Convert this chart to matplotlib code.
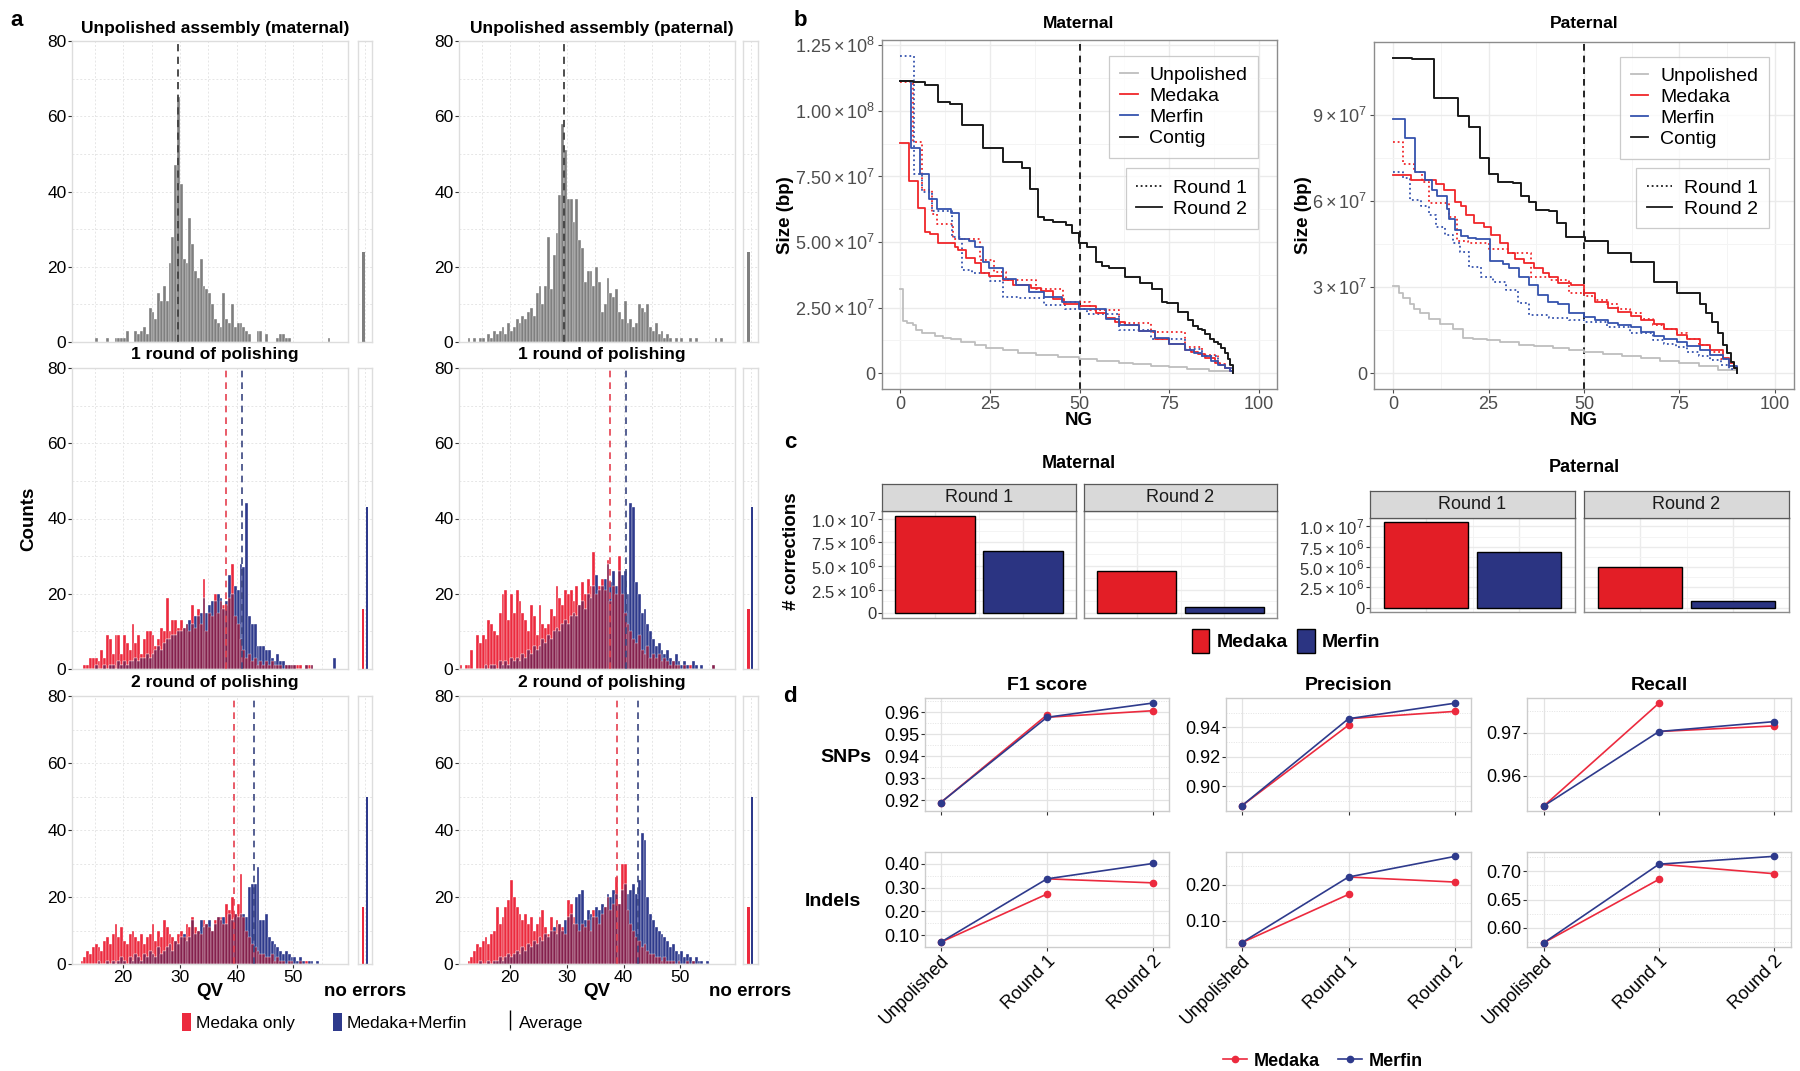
import matplotlib
matplotlib.use('Agg')
import matplotlib.pyplot as plt
import numpy as np
from matplotlib.lines import Line2D
from matplotlib.patches import Patch

plt.rcParams['font.family'] = ['Liberation Sans', 'DejaVu Sans']
plt.rcParams['mathtext.fontset'] = 'custom'
plt.rcParams['mathtext.rm'] = 'Liberation Sans'
plt.rcParams['mathtext.it'] = 'Liberation Sans:italic'
plt.rcParams['mathtext.bf'] = 'Liberation Sans:bold'

NARROW = ['Liberation Sans Narrow', 'Liberation Sans', 'DejaVu Sans']

W, H = 1800, 1071

# ---------------- panel a: QV histograms (bin width 0.5) ----------------
BIN = 0.5
UNPOL_MAT_START = 15.0
UNPOL_MAT = [1, 0, 0, 0, 1, 0, 0, 1, 1, 1, 1, 3, 0, 0, 3, 2, 3, 4, 2, 9,
             8, 6, 13, 11, 15, 11, 21, 28, 47, 65, 42, 22, 21, 33, 26, 19, 17, 22, 15, 14,
             13, 10, 6, 5, 4, 13, 6, 5, 10, 4, 5, 5, 4, 3, 2, 0, 0, 3, 3, 0,
             2, 0, 0, 0, 1, 2, 2, 1, 1, 0, 0, 0, 0, 0, 0, 0, 0, 0, 0, 0,
             0, 0, 1]
UNPOL_PAT_START = 12.5
UNPOL_PAT = [1, 0, 1, 0, 1, 1, 0, 2, 1, 3, 2, 3, 4, 2, 5, 3, 4, 6, 5, 7,
             6, 8, 9, 7, 13, 15, 10, 15, 28, 14, 23, 29, 39, 58, 51, 38, 38, 32, 38, 27,
             25, 16, 19, 19, 15, 20, 16, 8, 10, 17, 13, 12, 14, 8, 6, 11, 5, 6, 4, 5,
             10, 9, 8, 10, 4, 3, 5, 2, 3, 1, 2, 1, 0, 1, 0, 1, 0, 0, 1, 0,
             1, 0, 0, 0, 0, 0, 0, 1, 0, 1]

R1_MAT_START = 13.0
R1_MAT_MEDAKA = [1, 1, 3, 3, 3, 2, 5, 3, 9, 8, 4, 9, 9, 4, 9, 7, 5, 12, 7, 9,
                 4, 8, 10, 10, 9, 6, 8, 11, 10, 19, 10, 13, 13, 11, 13, 11, 12, 10, 17, 11,
                 16, 12, 24, 10, 15, 14, 20, 15, 18, 17, 17, 19, 28, 14, 12, 8, 5, 3, 4, 2,
                 3, 1, 2, 1, 2, 1, 2, 1, 1, 1, 0, 1, 1, 1, 1, 1, 1, 0, 1, 1, 1]
R1_MAT_MERFIN = [0, 0, 0, 0, 1, 0, 0, 1, 0, 1, 1, 0, 2, 1, 2, 1, 2, 2, 3, 2,
                 3, 3, 4, 3, 4, 5, 6, 5, 7, 8, 8, 9, 9, 10, 10, 11, 12, 13, 12, 14,
                 14, 15, 19, 15, 17, 18, 18, 20, 19, 16, 18, 25, 20, 22, 21, 28, 27, 44, 14, 12,
                 12, 6, 6, 6, 5, 5, 3, 2, 4, 2, 2, 1, 1, 1, 1, 0, 0, 0, 1, 0,
                 1, 0, 0, 0, 0, 0, 0, 0, 3]
R1_PAT_START = 11.0
R1_PAT_MEDAKA = [1, 0, 1, 1, 5, 0, 9, 7, 9, 8, 13, 12, 10, 9, 15, 20, 21, 13, 20, 15,
                 21, 18, 15, 13, 10, 17, 14, 9, 17, 12, 11, 12, 16, 14, 22, 19, 17, 21, 20, 21,
                 18, 22, 17, 23, 20, 24, 22, 31, 20, 22, 24, 21, 29, 18, 22, 20, 30, 20, 15, 12,
                 10, 8, 7, 9, 5, 4, 6, 3, 4, 3, 4, 2, 3, 2, 1, 2, 1, 1, 0, 1,
                 0, 1, 0, 0, 0, 0, 0, 0, 0, 1]
R1_PAT_MERFIN = [0, 0, 0, 0, 0, 0, 0, 0, 0, 1, 0, 1, 1, 0, 2, 1, 2, 1, 3, 2,
                 3, 2, 4, 3, 5, 4, 6, 5, 6, 8, 7, 9, 8, 10, 11, 10, 12, 13, 12, 14,
                 15, 14, 17, 18, 16, 20, 19, 22, 25, 21, 22, 24, 28, 23, 26, 22, 26, 25, 26, 20,
                 44, 43, 23, 20, 15, 16, 12, 10, 8, 6, 7, 5, 4, 5, 3, 2, 4, 2, 1, 2,
                 1, 0, 2, 1, 0, 1, 0, 0, 0, 1]

R2_MAT_START = 12.5
R2_MAT_MEDAKA = [1, 2, 4, 3, 5, 6, 5, 4, 7, 8, 6, 9, 12, 8, 11, 7, 6, 9, 10, 8,
                 7, 9, 6, 8, 9, 12, 7, 10, 8, 13, 11, 9, 8, 7, 9, 10, 8, 12, 11, 14,
                 11, 10, 9, 13, 12, 11, 10, 13, 14, 14, 12, 18, 16, 20, 15, 18, 27, 14, 10, 8,
                 6, 5, 4, 3, 3, 2, 2, 3, 1, 2, 1, 1, 0, 1, 1, 0, 0, 1, 0, 1]
R2_MAT_MERFIN = [0, 0, 0, 0, 0, 0, 1, 0, 0, 1, 0, 1, 0, 1, 2, 1, 0, 2, 1, 3,
                 2, 1, 3, 2, 4, 3, 2, 5, 3, 4, 5, 6, 4, 7, 6, 8, 9, 7, 8, 13,
                 9, 10, 13, 11, 12, 13, 10, 12, 14, 13, 14, 12, 15, 13, 15, 14, 15, 15, 14, 23,
                 24, 24, 29, 13, 13, 15, 8, 7, 6, 5, 4, 3, 4, 3, 2, 2, 1, 2, 1, 0,
                 1, 1, 0, 1]
R2_PAT_START = 12.5
R2_PAT_MEDAKA = [1, 2, 4, 6, 5, 7, 8, 6, 9, 10, 17, 12, 14, 17, 19, 25, 20, 17, 15, 13,
                 15, 12, 14, 10, 12, 14, 16, 11, 9, 14, 10, 13, 12, 11, 9, 19, 18, 14, 12, 10,
                 12, 11, 13, 10, 16, 14, 12, 15, 17, 20, 16, 18, 26, 18, 30, 30, 16, 12, 10, 8,
                 7, 5, 6, 4, 3, 3, 2, 2, 1, 2, 1, 1, 1, 0, 1, 0, 0, 1, 0, 1]
R2_PAT_MERFIN = [0, 0, 0, 0, 1, 0, 0, 1, 0, 1, 1, 2, 1, 2, 3, 2, 3, 4, 3, 5,
                 4, 6, 5, 7, 6, 8, 7, 9, 8, 10, 11, 9, 12, 10, 13, 14, 15, 12, 20, 21,
                 22, 13, 16, 15, 14, 17, 16, 18, 17, 21, 20, 22, 21, 18, 22, 24, 21, 22, 24, 21,
                 25, 39, 37, 20, 15, 13, 11, 10, 9, 8, 7, 5, 6, 4, 3, 4, 2, 3, 2, 1,
                 2, 1, 1, 0, 1, 0]

# mean QV (dashed lines) and counts of sequences with no errors
MEAN_UNPOL = [29.7, 29.5]
MEAN_R1 = [(38.2, 40.9), (37.6, 40.4)]
MEAN_R2 = [(39.6, 43.1), (38.8, 42.6)]
NOERR_UNPOL = [24, 24]
NOERR_R1 = [(16, 43), (16, 43)]
NOERR_R2 = [(17, 50), (17, 50)]

# ---------------- panel b: NG curves (size in Mbp) ----------------
MAT_CONTIG_NG = [0, 3.7, 7, 10.7, 13.9, 17.3, 23.1, 28.6, 33.9, 36.2, 38.5, 40.2, 42.5, 46.2, 48,
                 49.9, 52.2, 54.5, 56.4, 58.2, 62.8, 66.9, 70.1, 72.9, 74.3, 77.5, 80.3, 81.7,
                 83, 84, 85, 86.3, 87.5, 88.6, 89.5, 90.5, 91.3, 92, 92.8]
MAT_CONTIG_SZ = [111.3, 111, 110, 103.3, 102.7, 94.7, 85.8, 80.6, 78.1, 70.2, 59.7, 58.5, 57.8,
                 56.5, 53.3, 49.5, 48, 42.5, 41, 40, 36.8, 34.2, 31.9, 27.2, 26.6, 23.4, 20.2,
                 18, 17, 16.4, 15, 13, 12, 11.3, 9.5, 7.6, 5.5, 3, 0]
MAT_MED2_NG = [0, 2.6, 5.1, 7, 8.4, 10.7, 15.3, 16.2, 18.5, 20.8, 22.6, 24.9, 28.6, 31.4, 36.4,
               39.2, 42.5, 45.7, 49.9, 54.5, 57.3, 60, 62.8, 66.5, 71.1, 74.8, 79.4, 81, 83.1,
               85, 87.7, 89, 90.5, 91.8, 92.8]
MAT_MED2_SZ = [87.9, 73.3, 63, 53.9, 53, 49.5, 48, 46.9, 43.8, 42, 38, 37, 35.5, 33.6, 32.5,
               31.5, 28.2, 26.3, 25.7, 22.8, 21, 19.5, 18.5, 16, 13, 11, 8.9, 8, 7.3, 5.8, 3.8,
               3, 2, 1, 0]
MAT_MER2_NG = [0, 3.2, 5.7, 8.2, 10.3, 14.3, 16.5, 19.1, 20.8, 23.1, 24.9, 28.6, 32.4, 36, 40,
               45, 49.9, 57.3, 60.9, 66.5, 71.1, 74.8, 79.4, 82, 84, 86.5, 88.6, 90.5, 91.8,
               92.8]
MAT_MER2_SZ = [111.3, 86, 76, 66.5, 62.5, 61, 51, 50.5, 48.2, 42.5, 40, 36, 33.5, 31, 29, 27,
               24.4, 20.6, 18.3, 16, 13.5, 11, 8.9, 7.5, 6.5, 4.8, 3, 2, 1, 0]
MAT_MED1_NG = [0, 3.6, 6.2, 8.8, 10.2, 14.8, 19.8, 22.2, 26.3, 29.5, 38, 45.5, 53, 60.9, 70,
               79.4, 84, 88.6, 90.5, 92.8]
MAT_MED1_SZ = [111, 88, 70, 60.5, 57, 51, 51, 43, 38.5, 35.5, 32, 27, 24, 19.2, 15.5, 10, 7,
               3.5, 2, 0]
MAT_MER1_NG = [0, 3.9, 6.2, 8.8, 14.6, 17.3, 20, 25, 28.6, 33, 40, 46, 52, 60.9, 70, 79.4,
               84, 88.6, 90.5, 92.8]
MAT_MER1_SZ = [121, 76, 69, 62, 52, 39.5, 38, 35, 29, 28.5, 26, 24.5, 22.5, 16.4, 13, 9.3,
               6.5, 3, 1.8, 0]
MAT_UNPOL_NG = [0, 0.9, 2, 3.6, 4.4, 6, 9.7, 12, 14.3, 17, 20.8, 24, 28.6, 33, 37.8, 44, 49.9,
                55, 60.9, 65, 70, 75, 80, 86, 92.8]
MAT_UNPOL_SZ = [32, 20, 19, 18.3, 16.4, 15.2, 14, 13.5, 13, 11.8, 10.6, 9.6, 8.7, 7.7, 6.8, 6,
                5.3, 4.7, 4, 3.5, 2.9, 2.3, 1.7, 1, 0]

PAT_CONTIG_NG = [0, 5.0, 10.8, 17, 19.9, 22.8, 25.2, 27.4, 31.5, 33.5, 35.6, 37.4, 40.9, 43,
                 45.2, 50.3, 56.3, 62.3, 68.3, 74.4, 80.4, 82, 83.4, 85, 86.4, 87.5, 88.5,
                 89.3, 90]
PAT_CONTIG_SZ = [110.1, 109.5, 96.2, 89.7, 85.9, 75.2, 69.7, 66.7, 66.5, 61.7, 59.9, 57, 56.5,
                 52.5, 47.6, 46, 42, 38.8, 32, 28, 24, 21, 18, 14, 10, 7, 4, 2, 0]
PAT_MED2_NG = [0, 4.7, 11.3, 13.4, 16.1, 17.8, 19.1, 21.3, 23.9, 25.6, 27.9, 30, 31.8, 34.4,
               37, 39.2, 40.9, 43.1, 46.6, 50, 53, 56.3, 59, 62.3, 65, 68.3, 71, 74.4, 77,
               80.4, 83, 86.4, 88, 89.3, 90]
PAT_MED2_SZ = [69.3, 67.3, 66.2, 64.1, 59.8, 58.3, 55.2, 52.5, 51.1, 48.2, 45.3, 41.9, 39.8,
               38.4, 36.6, 34.9, 33.7, 31.4, 30.8, 28, 25, 22.8, 21.5, 20, 18.6, 17.2, 15.5,
               13.5, 12, 10, 8, 5.2, 3.5, 2, 0]
PAT_MER2_NG = [0, 3.1, 5.7, 8.3, 10.3, 11.6, 14.2, 14.7, 16.1, 17.8, 19.6, 21.8, 25.5, 28.7,
               30.4, 33.1, 35.7, 37.9, 40.5, 43.1, 46.2, 50, 53, 56.3, 59, 62.3, 65, 68.3, 71,
               74.4, 77, 80.4, 83, 86.4, 88, 90]
PAT_MER2_SZ = [88.8, 82.2, 70.2, 67.3, 63.9, 62, 57.2, 54, 50, 48, 47.2, 46.8, 39.3, 38.2,
               36.6, 33.7, 30.8, 27.3, 25, 24, 21, 19.5, 18.5, 17.5, 16.8, 16, 14.5, 13, 12,
               10.8, 9.5, 8, 6.5, 5, 2.5, 0]
PAT_MED1_NG = [0, 2.7, 5.4, 7.6, 9.3, 14.7, 16.8, 19.5, 25.2, 30, 36, 41, 46.2, 50, 53, 56, 59,
               62, 65, 68, 71, 74, 77, 80, 83, 86, 88, 90]
PAT_MED1_SZ = [80.7, 73.1, 70.2, 66.6, 59.3, 54.4, 46.3, 45.5, 43.5, 41.9, 33.7, 32.5, 28,
               27, 25.5, 24, 22.5, 21, 19, 17, 15.5, 14, 12, 10, 7.5, 5, 2.5, 0]
PAT_MER1_NG = [0, 2.7, 4.4, 7.4, 9.3, 11.2, 13.5, 15.6, 17.4, 20, 23.1, 26.2, 29.6, 32.7,
               35.7, 40.9, 46.2, 50, 56, 62, 68, 71, 74, 77, 80, 83, 86, 88, 90]
PAT_MER1_SZ = [70.2, 68, 60.6, 58.5, 55.2, 51.1, 48.2, 45.3, 42.4, 37.2, 33.7, 32, 29.1, 24.5,
               20.4, 19.3, 18.7, 18, 16, 14, 11.5, 10.2, 9, 7.5, 6, 4.5, 3, 1.5, 0]
PAT_UNPOL_NG = [0, 1.5, 2.7, 4.4, 5.5, 7, 9.5, 12.2, 15.6, 18.3, 21, 24.5, 28, 33.1, 37, 41.8,
                46.2, 50, 55, 60, 65, 70, 75, 80, 85, 90]
PAT_UNPOL_SZ = [30.6, 28, 26.3, 24, 22.5, 21, 19, 17.3, 15.5, 12.4, 12, 11.5, 10.8, 10, 9.4,
                8.8, 8, 7.5, 6.8, 6, 5.2, 4.4, 3.5, 2.5, 1.3, 0]

# ---------------- panel c: number of corrections ----------------
CORR_MAT_R1 = [1.03e7, 6.6e6]
CORR_MAT_R2 = [4.45e6, 6.5e5]
CORR_PAT_R1 = [1.05e7, 6.8e6]
CORR_PAT_R2 = [5.0e6, 8.0e5]

# ---------------- panel d: variant calling accuracy ----------------
STAGES = ['Unpolished', 'Round 1', 'Round 2']
# medaka: unpolished, round 1, round 2 ; merfin: unpolished, round 1, round 2
SNP_F1_MED = [0.9188, 0.9587, 0.9606]
SNP_F1_MER = [0.9188, 0.9576, 0.9641]
SNP_PREC_MED = [0.8866, 0.9416, 0.9510]
SNP_PREC_MER = [0.8866, 0.9460, 0.9566]
SNP_REC_MED = [0.9530, 0.9769, 0.9716]
SNP_REC_MER = [0.9530, 0.9703, 0.9726]
IND_F1_MED = [0.070, 0.273, 0.320]
IND_F1_MER = [0.070, 0.337, 0.402]
IND_PREC_MED = [0.040, 0.173, 0.207]
IND_PREC_MER = [0.040, 0.221, 0.278]
IND_REC_MED = [0.573, 0.686, 0.696]
IND_REC_MER = [0.573, 0.713, 0.727]

RED = '#EC2A3E'
BLUE = '#2E3A8C'
OVERLAP = '#85204D'
GRAY = '#7F7F7F'
RED_B = '#F0262A'
BLUE_B = '#3553AE'
GRID = '#E6E6E6'


def rect(x0, y0, x1, y1):
    return [x0 / W, 1 - y1 / H, (x1 - x0) / W, (y1 - y0) / H]


def ftext(fig, x, y, s, **kw):
    kw.setdefault('ha', 'center')
    kw.setdefault('va', 'center')
    fig.text(x / W, 1 - y / H, s, **kw)


def style_hist_ax(ax):
    ax.set_axisbelow(True)
    ax.grid(True, which='both', color=GRID, lw=0.7, ls=(0, (2, 2)))
    for s in ax.spines.values():
        s.set_color('#DDDDDD')
        s.set_linewidth(1.0)


def draw_hist(ax, start, series):
    n = max(len(s[0]) for s in series)
    x = start + BIN * np.arange(n)
    grids = []
    for counts, color in series:
        arr = np.zeros(n)
        arr[:len(counts)] = counts
        grids.append(arr)
        ax.bar(x, arr, width=BIN, align='edge', color=color, edgecolor='white', linewidth=0.25)
    if len(grids) == 2:
        ax.bar(x, np.minimum(grids[0], grids[1]), width=BIN, align='edge', color=OVERLAP,
               edgecolor='white', linewidth=0.25)


def panel_a(fig):
    rows = [(41, 342), (368, 669), (696, 964)]
    cols = [(72, 348, 358, 372), (459, 735, 743, 758)]
    title_x = [215, 602]
    titles = [['Unpolished assembly (maternal)', 'Unpolished assembly (paternal)'],
              ['1 round of polishing', '1 round of polishing'],
              ['2 round of polishing', '2 round of polishing']]
    data = [
        [((UNPOL_MAT, GRAY),), ((UNPOL_PAT, GRAY),)],
        [((R1_MAT_MEDAKA, RED), (R1_MAT_MERFIN, BLUE)), ((R1_PAT_MEDAKA, RED), (R1_PAT_MERFIN, BLUE))],
        [((R2_MAT_MEDAKA, RED), (R2_MAT_MERFIN, BLUE)), ((R2_PAT_MEDAKA, RED), (R2_PAT_MERFIN, BLUE))],
    ]
    starts = [[UNPOL_MAT_START, UNPOL_PAT_START], [R1_MAT_START, R1_PAT_START],
              [R2_MAT_START, R2_PAT_START]]
    means = [[(m,) for m in MEAN_UNPOL], MEAN_R1, MEAN_R2]
    noerr = [[(v,) for v in NOERR_UNPOL], NOERR_R1, NOERR_R2]

    for r, (y0, y1) in enumerate(rows):
        for c, (x0, x1, nx0, nx1) in enumerate(cols):
            ax = fig.add_axes(rect(x0, y0, x1, y1))
            style_hist_ax(ax)
            draw_hist(ax, starts[r][c], data[r][c])
            if r == 0:
                ax.axvline(means[r][c][0], color='#404040', ls=(0, (4, 3)), lw=1.3)
            else:
                ax.axvline(means[r][c][0], color='#E5404F', ls=(0, (4, 3)), lw=1.2)
                ax.axvline(means[r][c][1], color='#3A4580', ls=(0, (4, 3)), lw=1.2)
            ax.set_xlim(11.0, 59.6)
            ax.set_ylim(0, 80)
            ax.set_yticks([0, 20, 40, 60, 80])
            ax.set_yticks([10, 30, 50, 70], minor=True)
            ax.set_xticks([20, 30, 40, 50])
            ax.set_xticks([15, 25, 35, 45, 55], minor=True)
            ax.tick_params(which='minor', length=0)
            ax.tick_params(axis='y', labelsize=12.5, length=3, color='#333333', pad=1)
            if r == 2:
                ax.tick_params(axis='x', labelsize=12.5, length=3, color='#333333', pad=1)
            else:
                ax.tick_params(axis='x', length=0, labelbottom=False)
            ftext(fig, title_x[c], (29, 355, 683)[r], titles[r][c], fontsize=12.5, weight='bold')

            nax = fig.add_axes(rect(nx0, y0, nx1, y1))
            style_hist_ax(nax)
            nax.set_xlim(0, 1)
            nax.set_ylim(0, 80)
            nax.set_yticks([0, 20, 40, 60, 80])
            nax.set_yticks([10, 30, 50, 70], minor=True)
            nax.set_xticks([0.5])
            nax.tick_params(which='both', length=0, labelleft=False, labelbottom=False)
            if r == 0:
                nax.bar([0.38], noerr[r][c], width=0.2, color=GRAY)
            else:
                nax.bar([0.37, 0.62], noerr[r][c], width=0.15, color=[RED, BLUE])

    ftext(fig, 29, 519, 'Counts', fontsize=13.5, weight='bold', rotation=90)
    for cx, nx in ((210, 365), (597, 750)):
        ftext(fig, cx, 992, 'QV', fontsize=13.5, weight='bold')
        ftext(fig, nx, 992, 'no errors', fontsize=13.5, weight='bold')

    handles = [Patch(facecolor=RED, label='Medaka only'),
               Patch(facecolor=BLUE, label='Medaka+Merfin'),
               Line2D([], [], color='black', marker='|', ls='none', ms=15, mew=1.0, label='Average')]
    fig.legend(handles=handles, loc='center', bbox_to_anchor=(383 / W, 1 - 1022 / H), ncol=3,
               frameon=False, fontsize=12.5, handlelength=0.5, handleheight=1.3,
               handletextpad=0.3, columnspacing=2.2)


def panel_b(fig):
    specs = [
        ('Maternal', rect(882, 40, 1277, 389), (-6.05e6, 1.2705e8),
         [0, 2.5e7, 5e7, 7.5e7, 1e8, 1.25e8],
         ['0', r'$2.50\times10^{7}$', r'$5.00\times10^{7}$', r'$7.50\times10^{7}$',
          r'$1.00\times10^{8}$', r'$1.25\times10^{8}$'],
         (MAT_UNPOL_NG, MAT_UNPOL_SZ, MAT_MED1_NG, MAT_MED1_SZ, MAT_MER1_NG, MAT_MER1_SZ,
          MAT_MED2_NG, MAT_MED2_SZ, MAT_MER2_NG, MAT_MER2_SZ, MAT_CONTIG_NG, MAT_CONTIG_SZ),
         (0.952, 0.955, 0.632), 1079, 785),
        ('Paternal', rect(1374, 42, 1794, 389), (-5.5e6, 1.156e8),
         [0, 3e7, 6e7, 9e7],
         ['0', r'$3\times10^{7}$', r'$6\times10^{7}$', r'$9\times10^{7}$'],
         (PAT_UNPOL_NG, PAT_UNPOL_SZ, PAT_MED1_NG, PAT_MED1_SZ, PAT_MER1_NG, PAT_MER1_SZ,
          PAT_MED2_NG, PAT_MED2_SZ, PAT_MER2_NG, PAT_MER2_SZ, PAT_CONTIG_NG, PAT_CONTIG_SZ),
         (0.94, 0.958, 0.636), 1584, 1303),
    ]
    dotted = (0, (1, 1.6))
    for title, r, ylim, yt, ytl, d, legpos, cx, ylx in specs:
        ax = fig.add_axes(r)
        (u_ng, u_sz, m1_ng, m1_sz, r1_ng, r1_sz, m2_ng, m2_sz, r2_ng, r2_sz, c_ng, c_sz) = d
        ax.axvline(50, color='black', ls=(0, (4, 3)), lw=1.2, zorder=1)
        ax.step(u_ng, np.array(u_sz) * 1e6, where='post', color='#BEBEBE', lw=1.3)
        ax.step(m1_ng, np.array(m1_sz) * 1e6, where='post', color=RED_B, lw=1.3, ls=dotted)
        ax.step(r1_ng, np.array(r1_sz) * 1e6, where='post', color=BLUE_B, lw=1.3, ls=dotted)
        ax.step(m2_ng, np.array(m2_sz) * 1e6, where='post', color=RED_B, lw=1.3)
        ax.step(r2_ng, np.array(r2_sz) * 1e6, where='post', color=BLUE_B, lw=1.3)
        ax.step(c_ng, np.array(c_sz) * 1e6, where='post', color='#1A1A1A', lw=1.4)
        ax.set_xlim(-5, 105)
        ax.set_ylim(*ylim)
        ax.set_xticks([0, 25, 50, 75, 100])
        ax.set_xticks([12.5, 37.5, 62.5, 87.5], minor=True)
        ax.set_yticks(yt)
        ax.set_yticklabels(ytl)
        ax.set_yticks([(a + b) / 2 for a, b in zip(yt[:-1], yt[1:])], minor=True)
        ax.set_axisbelow(True)
        ax.grid(True, which='major', color='#EBEBEB', lw=1.0)
        ax.grid(True, which='minor', color='#F4F4F4', lw=0.7)
        ax.tick_params(which='minor', length=0)
        ax.tick_params(which='major', labelsize=13, labelcolor='#4D4D4D', color='#4D4D4D',
                       length=3, pad=2)
        for s in ax.spines.values():
            s.set_color('#8C8C8C')
            s.set_linewidth(1.0)
        ftext(fig, cx, 23, title, fontsize=12.5, weight='bold')
        ftext(fig, cx, 421, 'NG', fontsize=13.5, weight='bold')
        ftext(fig, ylx, 215, 'Size (bp)', fontsize=13.5, weight='bold', rotation=90)

        h1 = [Line2D([], [], color='#BEBEBE', lw=1.3, label='Unpolished'),
              Line2D([], [], color=RED_B, lw=1.3, label='Medaka'),
              Line2D([], [], color=BLUE_B, lw=1.3, label='Merfin'),
              Line2D([], [], color='#1A1A1A', lw=1.3, label='Contig')]
        h2 = [Line2D([], [], color='#1A1A1A', lw=1.3, ls=dotted, label='Round 1'),
              Line2D([], [], color='#1A1A1A', lw=1.3, label='Round 2')]
        leg1 = ax.legend(handles=h1, loc='upper right', bbox_to_anchor=(legpos[0], legpos[1]),
                         frameon=True, fancybox=False, fontsize=14, handlelength=0.9,
                         labelspacing=0.18, borderpad=0.55, handletextpad=0.6,
                         borderaxespad=0)
        leg1.get_frame().set_edgecolor('#BFBFBF')
        leg1.get_frame().set_linewidth(0.9)
        ax.add_artist(leg1)
        leg2 = ax.legend(handles=h2, loc='upper right', bbox_to_anchor=(legpos[0], legpos[2]),
                         frameon=True, fancybox=False, fontsize=14, handlelength=1.3,
                         labelspacing=0.18, borderpad=0.55, handletextpad=0.6,
                         borderaxespad=0)
        leg2.get_frame().set_edgecolor('#BFBFBF')
        leg2.get_frame().set_linewidth(0.9)


def panel_c(fig):
    specs = [
        ('Maternal', 1079, 463, 484, 511, 618, ((882, 1076), (1084, 1277)),
         (CORR_MAT_R1, CORR_MAT_R2)),
        ('Paternal', 1584, 468, 491, 518, 612, ((1370, 1575), (1584, 1789)),
         (CORR_PAT_R1, CORR_PAT_R2)),
    ]
    yt = [0, 2.5e6, 5e6, 7.5e6, 1e7]
    ytl = ['0', r'$2.5\times10^{6}$', r'$5.0\times10^{6}$', r'$7.5\times10^{6}$',
           r'$1.0\times10^{7}$']
    for title, cx, ty, s0, s1, y1, xs, vals in specs:
        top = max(max(v) for v in vals)
        ylim = (-0.05 * top, 1.05 * top)
        ftext(fig, cx, ty, title, fontsize=13, weight='bold', family=NARROW)
        for i, ((x0, x1), v) in enumerate(zip(xs, vals)):
            ax = fig.add_axes(rect(x0, s1, x1, y1))
            ax.bar([1, 2], v, width=0.9, color=['#E31E26', '#2B3482'], edgecolor='black', lw=1.0)
            ax.set_xlim(0.4, 2.6)
            ax.set_ylim(*ylim)
            ax.set_xticks([1, 2])
            ax.set_xticks([1.5], minor=True)
            ax.set_yticks(yt)
            ax.set_yticks([1.25e6, 3.75e6, 6.25e6, 8.75e6], minor=True)
            ax.set_axisbelow(True)
            ax.grid(True, which='major', color='#EBEBEB', lw=1.0)
            ax.grid(True, which='minor', color='#F4F4F4', lw=0.7)
            ax.tick_params(which='minor', length=0)
            ax.tick_params(axis='x', length=0, labelbottom=False)
            if i == 0:
                ax.set_yticklabels(ytl)
                ax.tick_params(axis='y', labelsize=12, labelcolor='#333333', length=3,
                               color='#333333', pad=1)
            else:
                ax.tick_params(axis='y', length=0, labelleft=False)
            for s in ax.spines.values():
                s.set_color('#8C8C8C')
                s.set_linewidth(1.0)

            sax = fig.add_axes(rect(x0, s0, x1, s1))
            sax.set_facecolor('#D9D9D9')
            sax.set_xticks([])
            sax.set_yticks([])
            for s in sax.spines.values():
                s.set_color('#595959')
                s.set_linewidth(0.9)
            sax.text(0.5, 0.5, 'Round %d' % (i + 1), transform=sax.transAxes, ha='center',
                     va='center', fontsize=13, family=NARROW, color='#1A1A1A')

    ftext(fig, 792, 551, '# corrections', fontsize=13.5, weight='bold', rotation=90)
    handles = [Patch(facecolor='#E31E26', edgecolor='black', label='Medaka'),
               Patch(facecolor='#2B3482', edgecolor='black', label='Merfin')]
    fig.legend(handles=handles, loc='center', bbox_to_anchor=(1286 / W, 1 - 641 / H), ncol=2,
               frameon=False, prop={'weight': 'bold', 'size': 14, 'family': NARROW},
               handlelength=0.9, handleheight=1.5, handletextpad=0.35, columnspacing=0.5)


def panel_d(fig):
    cols = [(925, 1169), (1226, 1471), (1527, 1791)]
    rows = [(698, 811), (852, 947)]
    col_titles = ['F1 score', 'Precision', 'Recall']
    data = [
        [(SNP_F1_MED, SNP_F1_MER, [0.92, 0.93, 0.94, 0.95, 0.96]),
         (SNP_PREC_MED, SNP_PREC_MER, [0.90, 0.92, 0.94]),
         (SNP_REC_MED, SNP_REC_MER, [0.96, 0.97])],
        [(IND_F1_MED, IND_F1_MER, [0.10, 0.20, 0.30, 0.40]),
         (IND_PREC_MED, IND_PREC_MER, [0.10, 0.20]),
         (IND_REC_MED, IND_REC_MER, [0.60, 0.65, 0.70])],
    ]
    for r, (y0, y1) in enumerate(rows):
        for c, (x0, x1) in enumerate(cols):
            med, mer, yt = data[r][c]
            ax = fig.add_axes(rect(x0, y0, x1, y1))
            # medaka round 2 starts from the merfin round 1 assembly
            ax.plot([0, 1], med[:2], color=RED, lw=1.2, zorder=3)
            ax.plot([1, 2], [mer[1], med[2]], color=RED, lw=1.2, zorder=3)
            ax.plot([0, 1, 2], mer, color=BLUE, lw=1.2, zorder=3)
            ax.plot([0, 1, 2], med, 'o', color=RED, ms=4.5, zorder=4)
            ax.plot([0, 1, 2], mer, 'o', color=BLUE, ms=4.5, zorder=5)
            lo = min(min(med), min(mer))
            hi = max(max(med), max(mer))
            pad = 0.05 * (hi - lo)
            ax.set_ylim(lo - pad, hi + pad)
            ax.set_xlim(-0.147, 2.147)
            ax.set_yticks(yt)
            ax.set_yticklabels(['%.2f' % v for v in yt])
            mids = [(a + b) / 2 for a, b in zip(yt[:-1], yt[1:])]
            step = yt[1] - yt[0]
            mids = [yt[0] - step / 2] + mids + [yt[-1] + step / 2]
            ax.set_yticks(mids, minor=True)
            ax.set_xticks([0, 1, 2])
            ax.set_axisbelow(True)
            ax.grid(True, which='major', color='#E3E3E3', lw=0.9)
            ax.grid(True, which='minor', axis='y', color='#E3E3E3', lw=0.7, ls=(0, (1, 1.5)))
            ax.tick_params(which='minor', length=0)
            ax.tick_params(which='major', labelsize=13, color='#333333', length=3, pad=1)
            for lbl in ax.get_yticklabels():
                lbl.set_family(NARROW)
            if r == 1:
                ax.set_xticklabels(STAGES, rotation=45, ha='right', rotation_mode='anchor',
                                   fontsize=13)
            else:
                ax.set_xticklabels([])
            for s in ax.spines.values():
                s.set_color('#CCCCCC')
                s.set_linewidth(1.0)
            if r == 0:
                ftext(fig, (x0 + x1) / 2, 685, col_titles[c], fontsize=14, weight='bold',
                      family=NARROW)
    ftext(fig, 846, 758, 'SNPs', fontsize=14, weight='bold', family=NARROW)
    ftext(fig, 833, 901, 'Indels', fontsize=14, weight='bold', family=NARROW)
    handles = [Line2D([], [], color=RED, marker='o', ms=4.5, lw=1.2, label='Medaka'),
               Line2D([], [], color=BLUE, marker='o', ms=4.5, lw=1.2, label='Merfin')]
    fig.legend(handles=handles, loc='center', bbox_to_anchor=(1323 / W, 1 - 1061 / H), ncol=2,
               frameon=False, prop={'weight': 'bold', 'size': 13}, handlelength=1.3,
               handletextpad=0.4, columnspacing=1.0)


def main():
    fig = plt.figure(figsize=(W / 100, H / 100), dpi=100)
    panel_a(fig)
    panel_b(fig)
    panel_c(fig)
    panel_d(fig)
    for lbl, x, y in (('a', 17, 20), ('b', 800, 20), ('c', 790, 442), ('d', 790, 697)):
        ftext(fig, x, y, lbl, fontsize=16, weight='bold')
    fig.savefig('out.png', dpi=100)


if __name__ == '__main__':
    main()
